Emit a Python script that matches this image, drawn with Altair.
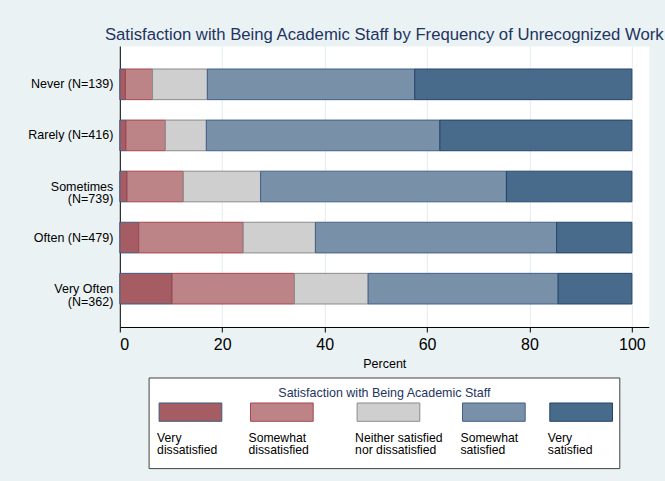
import altair as alt
import pandas as pd

# Rows (frequency of unrecognized work) and satisfaction levels
groups = ["Never (N=139)", "Rarely (N=416)", "Sometimes\n(N=739)",
          "Often (N=479)", "Very Often\n(N=362)"]
levels = ["Very dissatisfied", "Somewhat dissatisfied",
          "Neither satisfied nor dissatisfied", "Somewhat satisfied",
          "Very satisfied"]
legend_labels = ["Very\ndissatisfied", "Somewhat\ndissatisfied",
                 "Neither satisfied\nnor dissatisfied", "Somewhat\nsatisfied",
                 "Very\nsatisfied"]

# Percent of each row in each satisfaction level
very_dissatisfied = [1.1, 1.2, 1.4, 3.7, 10.2]
somewhat_dissatisfied = [5.3, 7.7, 11.0, 20.4, 23.9]
neither = [10.7, 8.0, 15.1, 14.1, 14.4]
somewhat_satisfied = [40.5, 45.6, 48.0, 47.1, 37.1]
very_satisfied = [42.4, 37.5, 24.5, 14.7, 14.4]

x_ticks = [0, 20, 40, 60, 80, 100]

# Styling
FONT = "Liberation Sans"
fills = ["#a65c63", "#bd8487", "#cfcfcf", "#7890a8", "#486b8c"]
strokes = ["#3d5a80", "#a8444f", "#8c8c8c", "#40608a", "#23446c"]
navy = "#1e3461"

series = [very_dissatisfied, somewhat_dissatisfied, neither,
          somewhat_satisfied, very_satisfied]
rows = []
for li, (lvl, vals) in enumerate(zip(levels, series)):
    for g, v in zip(groups, vals):
        rows.append({"group": g, "level": lvl, "lvl_idx": li, "pct": v})
df = pd.DataFrame(rows)

color_scale = alt.Scale(domain=levels, range=fills)
stroke_scale = alt.Scale(domain=levels, range=strokes)

bars = alt.Chart(df).mark_bar(strokeWidth=1).encode(
    x=alt.X(
        "pct:Q", stack="zero",
        scale=alt.Scale(domain=[0, 103.3], nice=False),
        axis=alt.Axis(
            values=x_ticks, title="Percent", grid=True, gridColor="#e3ebef",
            gridWidth=1, domainColor="black", tickColor="black", tickSize=5,
            labelFontSize=16, labelColor="black", labelFont=FONT,
            labelPadding=5, titleFontSize=12.5, titleFont=FONT,
            titleFontWeight="normal", titleColor="black", titlePadding=5,
        ),
    ),
    y=alt.Y(
        "group:N", sort=groups,
        scale=alt.Scale(paddingInner=0.4, paddingOuter=0.45),
        axis=alt.Axis(
            title=None, ticks=False, grid=False, domainColor="black",
            labelFontSize=12.5, labelColor="black", labelFont=FONT,
            labelPadding=7, labelLineHeight=13, labelLimit=200,
            labelExpr="split(datum.label, '\\n')",
        ),
    ),
    color=alt.Color("level:N", scale=color_scale, legend=None),
    stroke=alt.Stroke("level:N", scale=stroke_scale, legend=None),
    order=alt.Order("lvl_idx:Q"),
).properties(
    width=529, height=281,
    view=alt.ViewBackground(fill="white", stroke="transparent"),
    title=alt.TitleParams(
        "Satisfaction with Being Academic Staff by Frequency of Unrecognized Work",
        font=FONT, fontSize=16.7, fontWeight="normal", color=navy,
        anchor="middle", baseline="alphabetic", offset=-10.6,
    ),
)

# Legend panel: boxed key with swatches above two-line labels
swatch_left = [39.3, 130.7, 237.3, 342.7, 430.0]
swatch_width = 62.7
leg_df = pd.DataFrame({
    "level": levels,
    "label": legend_labels,
    "x0": swatch_left,
    "x1": [x + swatch_width for x in swatch_left],
    "tx": [x - 2 for x in swatch_left],
})
lx = alt.Scale(domain=[0, 529], nice=False, zero=False)
ly = alt.Scale(domain=[0, 91], nice=False, zero=False, reverse=True)

box = alt.Chart(pd.DataFrame({"x0": [29.3], "x1": [500.0],
                              "y0": [0.0], "y1": [90.6]})).mark_rect(
    fill="white", stroke="#404040", strokeWidth=1
).encode(
    x=alt.X("x0:Q", scale=lx, axis=None), x2="x1",
    y=alt.Y("y0:Q", scale=ly, axis=None), y2="y1",
)

swatches = alt.Chart(leg_df).mark_rect(strokeWidth=1).encode(
    x=alt.X("x0:Q", scale=lx, axis=None), x2="x1",
    y=alt.Y("sy0:Q", scale=ly, axis=None), y2="sy1:Q",
    color=alt.Color("level:N", scale=color_scale, legend=None),
    stroke=alt.Stroke("level:N", scale=stroke_scale, legend=None),
).transform_calculate(sy0="25", sy1="43.3")

labels = alt.Chart(leg_df).mark_text(
    align="left", baseline="alphabetic", lineBreak="\n", lineHeight=12.5,
    fontSize=12.2, font=FONT, color="black",
).encode(
    x=alt.X("tx:Q", scale=lx, axis=None),
    y=alt.Y("ty:Q", scale=ly, axis=None),
    text="label:N",
).transform_calculate(ty="64")

leg_title = alt.Chart(pd.DataFrame({"t": ["Satisfaction with Being Academic Staff"],
                                    "x": [264.6], "y": [15.0]})).mark_text(
    align="center", baseline="middle", fontSize=12.5, font=FONT, color=navy,
).encode(
    x=alt.X("x:Q", scale=lx, axis=None),
    y=alt.Y("y:Q", scale=ly, axis=None),
    text="t:N",
)

legend_panel = alt.layer(box, swatches, labels, leg_title).properties(
    width=529, height=91,
    view=alt.ViewBackground(fill="transparent", stroke="transparent"),
)

chart = alt.vconcat(bars, legend_panel, spacing=6).properties(
    background="#eaf2f3",
    padding={"left": 26.8, "top": 26, "right": 0, "bottom": 13},
).resolve_scale(color="independent", stroke="independent")

chart.save("out.html", embed_options={"renderer": "svg", "actions": False})
